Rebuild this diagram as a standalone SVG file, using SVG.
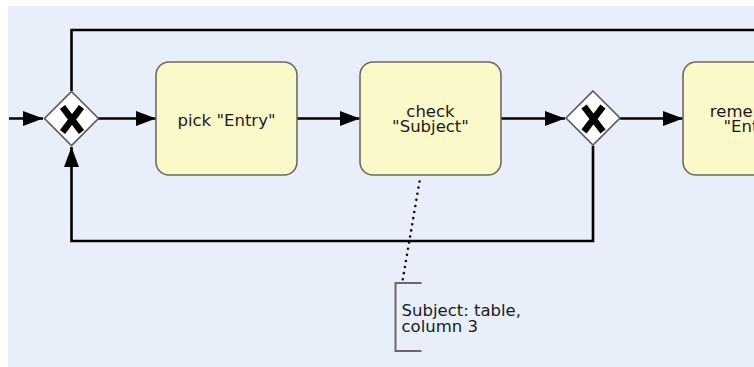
<svg xmlns="http://www.w3.org/2000/svg" width="754" height="367" viewBox="0 0 754 367">
  <style>
    .task rect { fill: #fbf8c9; stroke: #6b6b5e; stroke-width: 1.6; }
    .task text, .note text { font-family: "DejaVu Sans", Verdana, sans-serif; font-size: 16.5px; fill: #1a1a1a; }
    .task text { text-anchor: middle; }
    .gw path.d { fill: #ffffff; stroke: #5a5a5a; stroke-width: 1.6; }
    .gw path.x { fill: none; stroke: #000; stroke-width: 6.5; stroke-linecap: butt; }
    .flow { fill: none; stroke: #000; stroke-width: 2.6; }
    .assoc { fill: none; stroke: #111; stroke-width: 2.6; stroke-dasharray: 0 6.2; stroke-linecap: round; }
    .bracket { fill: none; stroke: #6a6a6a; stroke-width: 2; }
  </style>
  <defs>
    <marker id="arrow" viewBox="0 0 20 16" refX="20" refY="8" markerWidth="20" markerHeight="16" markerUnits="userSpaceOnUse" orient="auto">
      <path d="M0,0.5 L20,8 L0,15.5 Z" fill="#000"/>
    </marker>
  </defs>

  <!-- canvas -->
  <rect x="0" y="0" width="754" height="367" fill="#ffffff"/>
  <rect x="8" y="6" width="746" height="361" fill="#e8eefa"/>

  <!-- sequence flows -->
  <g id="connectors">
    <path class="flow" d="M9,118.5 H43" marker-end="url(#arrow)"/>
    <path class="flow" d="M98,118.5 H156" marker-end="url(#arrow)"/>
    <path class="flow" d="M297,118.5 H360" marker-end="url(#arrow)"/>
    <path class="flow" d="M501,118.5 H565" marker-end="url(#arrow)"/>
    <path class="flow" d="M620,118.5 H683" marker-end="url(#arrow)"/>
    <path class="flow" d="M71.5,91 V30 H760"/>
    <path class="flow" d="M593,146 V241 H71.5 V147" marker-end="url(#arrow)"/>
    <path class="assoc" d="M419.5,181.5 L402.5,281"/>
  </g>

  <!-- exclusive gateways -->
  <g id="gateway-join" class="gw">
    <path class="d" d="M71.5,91.5 L98.5,118.5 L71.5,145.5 L44.5,118.5 Z"/>
    <path class="x" d="M62.5,107 L81.5,132 M81.5,107 L62.5,132"/>
  </g>
  <g id="gateway-split" class="gw">
    <path class="d" d="M593,91 L620,118 L593,145 L566,118 Z"/>
    <path class="x" d="M584,106.5 L603,131.5 M603,106.5 L584,131.5"/>
  </g>

  <!-- tasks -->
  <g id="task-pick" class="task">
    <rect x="156" y="62" width="141" height="113" rx="13" ry="13"/>
    <text x="226.5" y="125.5">pick "Entry"</text>
  </g>
  <g id="task-check" class="task">
    <rect x="360" y="62" width="141" height="113" rx="13" ry="13"/>
    <text x="430.5" y="116.5">check</text>
    <text x="430.5" y="131.5">"Subject"</text>
  </g>
  <g id="task-remember" class="task">
    <rect x="683" y="62" width="141" height="113" rx="13" ry="13"/>
    <text x="753" y="117">remember</text>
    <text x="753" y="132">"Entry"</text>
  </g>

  <!-- text annotation -->
  <g id="note-subject" class="note">
    <path class="bracket" d="M421.5,283 H395.5 V351 H421.5"/>
    <text x="401.5" y="315.5">Subject: table,</text>
    <text x="401.5" y="331.5">column 3</text>
  </g>
</svg>
